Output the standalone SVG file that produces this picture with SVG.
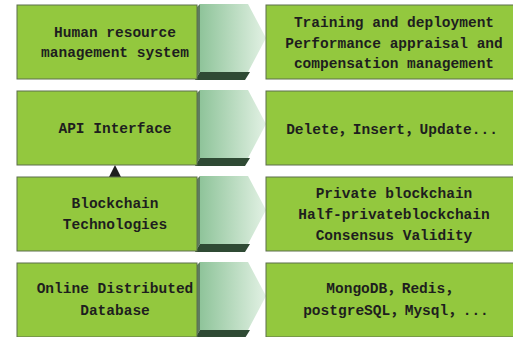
<svg xmlns="http://www.w3.org/2000/svg" width="513" height="337" viewBox="0 0 513 337">
<defs>
<linearGradient id="front" x1="0" y1="0" x2="1" y2="0">
<stop offset="0" stop-color="#8fc49a"/>
<stop offset="1" stop-color="#e2f1e4"/>
</linearGradient>
<g id="arrow">
<polygon points="195,9 200,4 200,72 195,80" fill="#5e7c5f"/>
<polygon points="195,80 200,72 250,72 245,80" fill="#2f4a34"/>
<polygon points="200,4 248,4 266,38 248,72 200,72" fill="url(#front)"/>
</g>
</defs>
<style>
.box{fill:#93c83e;stroke:#5d6e4c;stroke-width:1}
text{font-family:"Liberation Mono","DejaVu Sans Mono","Noto Sans CJK SC",monospace;font-size:14.5px;font-weight:bold;fill:#1e1e1e;text-anchor:middle}
</style>
<rect width="513" height="337" fill="#ffffff"/>
<g id="connectors">
<polygon points="115,165 109,177 121,177" fill="#1e1e1e"/>
<use href="#arrow"/>
<use href="#arrow" y="86"/>
<use href="#arrow" y="172"/>
<use href="#arrow" y="258"/>
</g>
<g id="hrm">
<rect class="box" x="17" y="5" width="180" height="74"/>
<text x="115" y="37">Human resource</text>
<text x="115" y="57">management system</text>
</g>
<g id="hrm-functions">
<rect class="box" x="266" y="5" width="260" height="74"/>
<text x="394" y="27">Training and deployment</text>
<text x="394" y="48">Performance appraisal and</text>
<text x="394" y="68">compensation management</text>
</g>
<g id="api">
<rect class="box" x="17" y="91" width="180" height="74"/>
<text x="115" y="133">API Interface</text>
</g>
<g id="api-ops">
<rect class="box" x="266" y="91" width="260" height="74"/>
<text x="392" y="134">Delete，Insert，Update...</text>
</g>
<g id="blockchain">
<rect class="box" x="17" y="177" width="180" height="74"/>
<text x="115" y="208">Blockchain</text>
<text x="115" y="229">Technologies</text>
</g>
<g id="blockchain-types">
<rect class="box" x="266" y="177" width="260" height="74"/>
<text x="394" y="198">Private blockchain</text>
<text x="394" y="219">Half-privateblockchain</text>
<text x="394" y="240">Consensus Validity</text>
</g>
<g id="database">
<rect class="box" x="17" y="263" width="180" height="74"/>
<text x="115" y="293">Online Distributed</text>
<text x="115" y="315">Database</text>
</g>
<g id="database-list">
<rect class="box" x="266" y="263" width="260" height="74"/>
<text x="393" y="293">MongoDB，Redis，</text>
<text x="396" y="315">postgreSQL，Mysql，...</text>
</g>
</svg>
